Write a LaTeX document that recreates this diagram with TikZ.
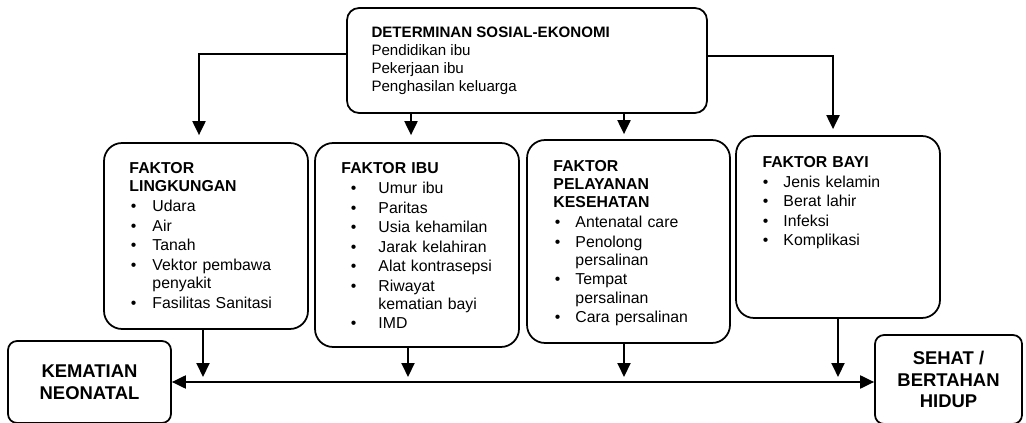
\documentclass[tikz,border=0pt]{standalone}
\usepackage{fontspec}
\setmainfont{Liberation Sans}
\usepackage{enumitem}
\usetikzlibrary{arrows.meta, positioning}
\setlist[itemize]{topsep=1pt, partopsep=0pt, itemsep=0.7pt, parsep=0pt}

\begin{document}
\begin{tikzpicture}[
        x=0.02cm, y=0.02cm,
        detbox/.style={rectangle, draw=black, line width=1pt, rounded corners=0.24cm, minimum width=7.2cm, minimum height=2.1cm},
        faktorbox/.style={rectangle, draw=black, line width=1pt, rounded corners=0.36cm, minimum width=4.08cm},
        endbox/.style={rectangle, draw=black, line width=1pt, rounded corners=0.18cm, align=center, font=\fontsize{10.5}{12.35}\selectfont\bfseries},
        dettext/.style={inner sep=0pt, align=left, font=\fontsize{8.6}{10.4}\selectfont},
        faktortext/.style={inner sep=0pt, text width=3.7cm, align=left, font=\fontsize{9}{10.4}\selectfont},
        arrow/.style={-{Triangle[length=0.28cm, width=0.26cm]}, line width=1.15pt},
        biarrow/.style={{Triangle[length=0.28cm, width=0.26cm]}-{Triangle[length=0.28cm, width=0.26cm]}, line width=1.15pt}
    ]
    \useasboundingbox (0,0) rectangle (1026,422);

    % Determinant box
    \node[detbox] (socio) at (527,361.5) {};
    \node[dettext, below right=0.38cm and 0.5cm of socio.north west] (sociotext) {\textbf{DETERMINAN SOSIAL-EKONOMI}\\Pendidikan ibu\\Pekerjaan ibu\\Penghasilan keluarga};

    % Factor boxes
    \node[faktorbox, minimum height=3.72cm] (lingk) at (206,186) {};
    \node[faktorbox, minimum height=4.08cm] (ibu) at (417,177) {};
    \node[faktorbox, minimum width=4.06cm, minimum height=4.06cm] (yankes) at (628.5,180.5) {};
    \node[faktorbox, minimum height=3.64cm] (bayi) at (838,195) {};

    \node[faktortext, below right=0.4cm and 0.52cm of lingk.north west] (lingktext) {\textbf{FAKTOR}\\\textbf{LINGKUNGAN}
        \begin{itemize}[leftmargin=0.46cm, labelsep=0.32cm]
            \item Udara
            \item Air
            \item Tanah
            \item Vektor pembawa\\penyakit
            \item Fasilitas Sanitasi
        \end{itemize}};
    \node[faktortext, below right=0.4cm and 0.54cm of ibu.north west] (ibutext) {\textbf{FAKTOR IBU}
        \begin{itemize}[leftmargin=0.74cm, labelsep=0.44cm]
            \item Umur ibu
            \item Paritas
            \item Usia kehamilan
            \item Jarak kelahiran
            \item Alat kontrasepsi
            \item Riwayat\\kematian bayi
            \item IMD
        \end{itemize}};
    \node[faktortext, below right=0.41cm and 0.54cm of yankes.north west] (yankestext) {\textbf{FAKTOR}\\\textbf{PELAYANAN}\\\textbf{KESEHATAN}
        \begin{itemize}[leftmargin=0.44cm, labelsep=0.3cm]
            \item Antenatal care
            \item Penolong\\persalinan
            \item Tempat\\persalinan
            \item Cara persalinan
        \end{itemize}};
    \node[faktortext, below right=0.41cm and 0.54cm of bayi.north west] (bayitext) {\textbf{FAKTOR BAYI}
        \begin{itemize}[leftmargin=0.42cm, labelsep=0.3cm]
            \item Jenis kelamin
            \item Berat lahir
            \item Infeksi
            \item Komplikasi
        \end{itemize}};

    % Outcome boxes
    \node[endbox, minimum width=3.26cm, minimum height=1.64cm] (mati) at (89.5,40) {KEMATIAN\\NEONATAL};
    \node[endbox, minimum width=2.94cm, minimum height=1.78cm] (sehat) at (948.5,42.5) {SEHAT /\\BERTAHAN\\HIDUP};

    % Arrows
    \draw[arrow, shorten >=0.14cm] ([yshift=0.13cm]socio.west) -| ([xshift=-0.14cm]lingk.north);
    \draw[arrow, shorten >=0.14cm] ([xshift=-0.12cm]ibu.north |- socio.south) -- ([xshift=-0.12cm]ibu.north);
    \draw[arrow, shorten >=0.1cm] ([xshift=-0.09cm]yankes.north |- socio.south) -- ([xshift=-0.09cm]yankes.north);
    \draw[arrow, shorten >=0.12cm] ([yshift=0.09cm]socio.east) -| ([xshift=-0.1cm]bayi.north);

    \draw[biarrow] (mati.east) -- (sehat.west |- mati.east);
    \draw[arrow, shorten >=0.1cm] ([xshift=-0.06cm]lingk.south) -- ([xshift=-0.06cm]lingk.south |- mati.east);
    \draw[arrow, shorten >=0.1cm] ([xshift=-0.18cm]ibu.south) -- ([xshift=-0.18cm]ibu.south |- mati.east);
    \draw[arrow, shorten >=0.1cm] ([xshift=-0.09cm]yankes.south) -- ([xshift=-0.09cm]yankes.south |- mati.east);
    \draw[arrow, shorten >=0.1cm] (bayi.south) -- (bayi.south |- mati.east);

\end{tikzpicture}
\end{document}
